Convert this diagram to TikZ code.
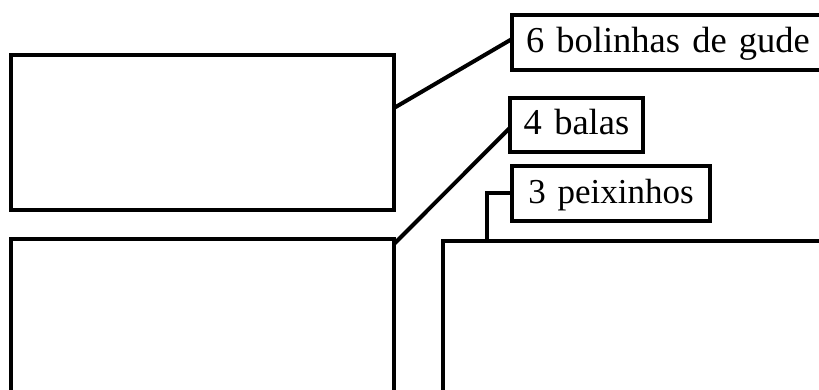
\documentclass[tikz,border=0pt]{standalone}
\usepackage{fontspec}
\setmainfont{Liberation Serif}[WordSpace=1.35]
\begin{document}
\begin{tikzpicture}[x=1pt,y=1pt,
  bigbox/.style={draw=black, line width=4pt, fill=white, outer sep=0pt, inner sep=0pt},
  labelbox/.style={draw=black, line width=4pt, fill=white, outer sep=0pt,
    inner xsep=14pt, inner ysep=0pt, text height=24pt, text depth=4pt,
    font=\fontsize{35pt}{40pt}\selectfont},
  bigtext/.style={font=\fontsize{36.5pt}{40pt}\selectfont},
  wire/.style={draw=black, line width=4pt}]
\clip (0,0) rectangle (819,390);
\fill[white] (0,0) rectangle (819,390);
% boxes
\node[bigbox, minimum width=383.5pt, minimum height=154.5pt] (b1) at (202.25,257.25) {};
\node[bigbox, minimum width=383.5pt, minimum height=191pt] (b2) at (202.25,55.5) {};
\node[bigbox, minimum width=457pt, minimum height=189pt, anchor=north west] (b3) at (443,149) {};
% labels
\node[labelbox, bigtext, anchor=west, text width=298pt, align=left, minimum height=54.5pt] (l1) at (512,347.25) {6 bolinhas de gude};
\node[labelbox, bigtext, minimum width=133pt, minimum height=54pt] (l2) at (576.5,265) {4 balas};
\node[labelbox, minimum width=198pt, minimum height=55pt] (l3) at (611,196.5) {3 peixinhos};
% connectors
\draw[wire] ([yshift=-52.5pt]b1.north east) -- ([yshift=3.75pt]l1.west);
\draw[wire] ([yshift=-5pt]b2.north east) -- ([yshift=-3pt]l2.west);
\coordinate (k) at ([xshift=44pt]b3.north west);
\draw[wire] (l3.west) -| (k);
\end{tikzpicture}
\end{document}
